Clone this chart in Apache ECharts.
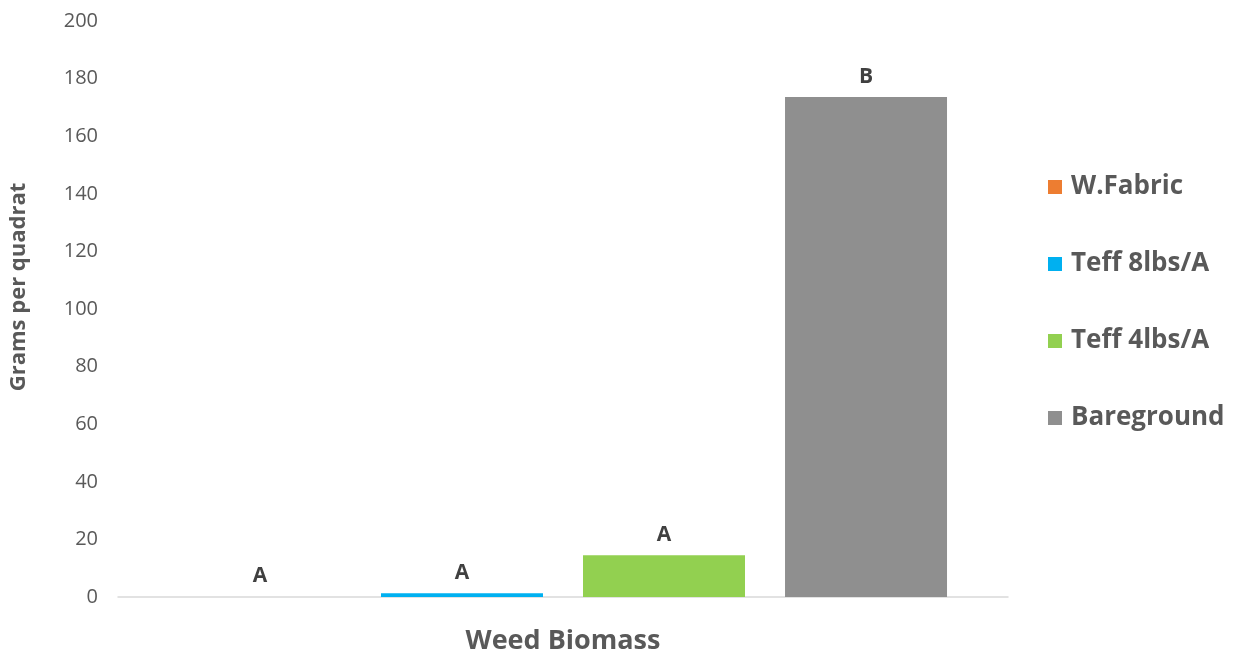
<!DOCTYPE html>
<html>
<head>
<meta charset="utf-8">
<script src="https://cdn.jsdelivr.net/npm/echarts@6/dist/echarts.min.js"></script>
<style>html,body{margin:0;padding:0;background:#fff}#c{width:1234px;height:651px}</style>
</head>
<body>
<div id="c"></div>
<script>
const categories = ['Weed Biomass'];
const seriesNames = ['W.Fabric', 'Teff 8lbs/A', 'Teff 4lbs/A', 'Bareground'];
const seriesValues = [[0], [1.3], [14.5], [173.6]];
const letterLabels = ['A', 'A', 'A', 'B'];
const colors = ['#ED7D31', '#00B0F0', '#92D050', '#8F8F8F'];

const chart = echarts.init(document.getElementById('c'));
const font = '"Open Sans", "Noto Sans", sans-serif';
chart.setOption({
  animation: false,
  textStyle: { fontFamily: font },
  grid: { left: 118, right: 226, top: 21, bottom: 54, outerBoundsMode: 'none', containLabel: false },
  legend: {
    orient: 'vertical',
    left: 1043,
    top: 169,
    itemWidth: 14,
    itemHeight: 14,
    itemGap: 51,
    icon: 'rect',
    data: seriesNames,
    textStyle: { fontFamily: font, fontSize: 26, fontWeight: 'bold', color: '#595959', lineHeight: 26, padding: [0, 0, 0, 4] }
  },
  xAxis: {
    type: 'category',
    data: categories,
    name: 'Weed Biomass',
    nameLocation: 'middle',
    nameGap: 31,
    nameTextStyle: { fontFamily: font, fontSize: 27, fontWeight: 'bold', color: '#595959' },
    axisLine: { lineStyle: { color: '#D9D9D9', width: 1.5 } },
    axisTick: { show: false },
    axisLabel: { show: false }
  },
  yAxis: {
    type: 'value',
    min: 0, max: 200, interval: 20,
    name: 'Grams per quadrat',
    nameLocation: 'middle',
    nameGap: 88,
    nameTextStyle: { fontFamily: font, fontSize: 22, fontWeight: 'bold', color: '#595959', padding: [0, 0, 0, 44] },
    axisLine: { show: false },
    axisTick: { show: false },
    splitLine: { show: false },
    axisLabel: { fontFamily: font, fontSize: 20, color: '#595959', margin: 20 }
  },
  series: seriesNames.map((n, i) => ({
    name: n,
    type: 'bar',
    data: seriesValues[i],
    barWidth: 162,
    barGap: '24.7%',
    itemStyle: { color: colors[i] },
    label: {
      show: true,
      position: 'top',
      distance: 10,
      formatter: () => letterLabels[i],
      fontFamily: font, fontSize: 21, fontWeight: 'bold', color: '#404040'
    }
  }))
});
</script>
</body>
</html>
